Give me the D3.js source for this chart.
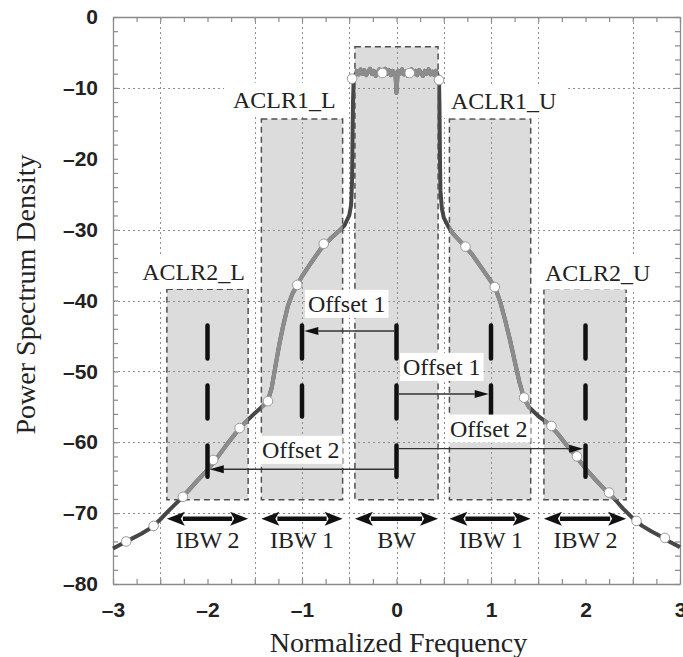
<!DOCTYPE html>
<html><head><meta charset="utf-8">
<script src="https://cdn.jsdelivr.net/npm/d3@7"></script>
<style>body{margin:0;background:#fff}</style>
</head><body><svg id="c" width="683" height="657"></svg>
<script>
// ---------------- DATA ----------------
const spectrumFreq = [-3.0,-2.9,-2.8,-2.7,-2.6,-2.5,-2.4,-2.3,-2.2,-2.1,-2.0,-1.9,-1.8,-1.7,-1.6,-1.5,-1.4,-1.36,-1.32,-1.28,-1.24,-1.2,-1.15,-1.1,-1.05,-1.0,-0.9,-0.8,-0.7,-0.6,-0.55,-0.5,-0.48,-0.47,-0.465,-0.46,-0.455,-0.45,
 -0.44,-0.42,-0.4,-0.38,-0.36,-0.34,-0.32,-0.3,-0.28,-0.26,-0.24,-0.22,-0.2,-0.18,-0.16,-0.14,-0.12,-0.1,-0.08,-0.06,-0.04,-0.02,-0.01,0,0.01,0.02,0.04,0.06,0.08,0.1,0.12,0.14,0.16,0.18,0.2,0.22,0.24,0.26,0.28,0.3,0.32,0.34,0.36,0.38,0.4,0.42,0.44,
 0.45,0.455,0.46,0.465,0.48,0.5,0.55,0.6,0.7,0.8,0.9,1.0,1.05,1.1,1.15,1.2,1.25,1.3,1.35,1.4,1.5,1.6,1.7,1.8,1.9,2.0,2.1,2.2,2.3,2.4,2.5,2.6,2.7,2.8,2.9,3.0];
const spectrumPsd = [-75.0,-74.3,-73.6,-72.9,-72.1,-70.9,-69.5,-68.2,-66.8,-65.3,-63.9,-62.2,-60.4,-58.7,-57.2,-55.9,-54.7,-54.1,-52.3,-49.2,-46.2,-43.6,-40.8,-39.0,-37.8,-36.6,-34.6,-32.7,-31.3,-30.1,-29.4,-28.0,-26.5,-23.0,-17.0,-12.0,-9.5,-8.6,
 -8.4,-7.6,-8.1,-7.4,-8.0,-7.5,-8.2,-7.7,-7.3,-8.0,-7.6,-8.3,-7.8,-7.4,-8.1,-7.7,-7.3,-8.0,-7.5,-8.2,-7.6,-7.9,-8.3,-10.7,-8.3,-7.6,-8.0,-7.4,-8.1,-7.7,-8.3,-7.8,-7.4,-8.0,-7.6,-8.2,-7.5,-7.9,-8.3,-7.6,-8.0,-7.4,-8.1,-7.7,-8.2,-7.6,-8.4,
 -8.8,-13.0,-20.0,-24.5,-27.0,-28.3,-29.6,-30.6,-32.0,-33.5,-35.4,-37.3,-38.4,-40.3,-42.8,-45.5,-48.5,-51.5,-53.8,-55.0,-56.3,-57.3,-58.7,-60.4,-62.0,-63.7,-65.2,-66.6,-67.9,-69.4,-70.7,-71.8,-72.6,-73.3,-74.1,-74.8];

const markerFreq = [-2.86,-2.57,-2.26,-1.94,-1.66,-1.36,-1.05,-0.77,-0.47,-0.15,0.14,0.45,0.73,1.04,1.35,1.64,1.91,2.25,2.54,2.84];
const markerPsd  = [-74.0,-71.8,-67.7,-62.5,-58.0,-54.2,-37.8,-32.0,-8.7,-7.9,-7.9,-8.9,-32.4,-38.1,-53.7,-57.7,-62.0,-67.1,-71.1,-73.5];

const boxNames   = ["ACLR2_L","ACLR1_L","BW","ACLR1_U","ACLR2_U"];
const boxCenters = [-2,-1,0,1,2];
const boxLeft    = [-2.43,-1.43,-0.44,0.56,1.56];
const boxRight   = [-1.57,-0.57,0.44,1.42,2.43];
const boxTop     = [-38.4,-14.4,-4.2,-14.4,-38.4];
const boxBottom  = -68.1;

const aclrLabels = ["ACLR2_L","ACLR1_L","ACLR1_U","ACLR2_U"];
const aclrLabelX = [-2.69,-1.73,0.577,1.571];   // start of text (data units)
const aclrLabelY = [-37.1,-12.8,-13.0,-37.2];   // baseline (data units)

const bandLabels = ["IBW 2","IBW 1","BW","IBW 1","IBW 2"];
const bandArrowPsd = -70.8;
const bandLabelPsd = -74.9;

const markerBarTop = -43.2;
const markerBarBottom = [-65.2,-56.7,-65.2,-56.7,-65.2];

const offsetLabels  = ["Offset 1","Offset 1","Offset 2","Offset 2"];
const offsetTarget  = [-1,1,-2,2];
const offsetPsd     = [-44.3,-53.2,-63.8,-60.9];
const offsetLabelX  = [-0.937,0.069,-1.423,0.566];
const offsetLabelY  = [-41.6,-50.5,-62.2,-59.2];

const xTickLabels = [-3,-2,-1,0,1,2,3];
const yTickLabels = [0,-10,-20,-30,-40,-50,-60,-70,-80];
const xMinorTicks = d3.range(-3,3.001,0.25);
const yMinorTicks = d3.range(-80,0.001,2);
const xGrid = [-2.5,-1.5,-1,-0.5,0,0.5,1,1.5,2.5];
const yGrid = [-10,-30,-40,-50,-60,-70];

// ---------------- DRAW ----------------
const L=113,R=680,T=17,B=584;
const x = d3.scaleLinear().domain([-3,3]).range([L,R]);
const y = d3.scaleLinear().domain([-80,0]).range([B,T]);
const svg = d3.select('#c');
svg.append('rect').attr('width',683).attr('height',657).attr('fill','#fff');

const boxes = boxNames.map((n,i)=>({name:n,c:boxCenters[i],l:boxLeft[i],r:boxRight[i],t:boxTop[i],b:boxBottom}));

svg.append('g').selectAll('rect').data(boxes).join('rect')
  .attr('x',d=>x(d.l)).attr('y',d=>y(d.t))
  .attr('width',d=>x(d.r)-x(d.l)).attr('height',d=>y(d.b)-y(d.t))
  .attr('fill','#dcdcdc');

const grid = svg.append('g').attr('stroke','#8f8f8f').attr('stroke-width',1).attr('stroke-dasharray','2,3');
grid.selectAll('.gx').data(xGrid).join('line').attr('class','gx')
  .attr('x1',d=>Math.round(x(d))+.5).attr('x2',d=>Math.round(x(d))+.5).attr('y1',T).attr('y2',B);
grid.selectAll('.gy').data(yGrid).join('line').attr('class','gy')
  .attr('y1',d=>Math.round(y(d))+.5).attr('y2',d=>Math.round(y(d))+.5).attr('x1',L).attr('x2',R);

svg.append('g').selectAll('rect').data(boxes).join('rect')
  .attr('x',d=>x(d.l)).attr('y',d=>y(d.t))
  .attr('width',d=>x(d.r)-x(d.l)).attr('height',d=>y(d.b)-y(d.t))
  .attr('fill','none').attr('stroke','#505050').attr('stroke-width',1.5).attr('stroke-dasharray','6,4');

// axes ticks (inward)
function styleAx(g){ g.select('.domain').attr('stroke','#8a8a8a').attr('stroke-width',1.3);
  g.selectAll('.tick line').attr('stroke','#8a8a8a').attr('stroke-width',1.2); }
svg.append('g').attr('transform',`translate(0,${B})`).call(d3.axisBottom(x).tickValues(xMinorTicks).tickSize(-5).tickSizeOuter(0).tickFormat('')).call(styleAx);
svg.append('g').attr('transform',`translate(0,${T})`).call(d3.axisTop(x).tickValues(xMinorTicks).tickSize(-5).tickSizeOuter(0).tickFormat('')).call(styleAx);
svg.append('g').attr('transform',`translate(${L},0)`).call(d3.axisLeft(y).tickValues(yMinorTicks).tickSize(-5).tickSizeOuter(0).tickFormat('')).call(styleAx);
svg.append('g').attr('transform',`translate(${R},0)`).call(d3.axisRight(y).tickValues(yMinorTicks).tickSize(-5).tickSizeOuter(0).tickFormat('')).call(styleAx);

const fmt = d => d===0 ? '0' : (d<0 ? '\u2013'+Math.abs(d) : String(d));
const tickFont = g => g.selectAll('text').attr('font-family','"Liberation Sans", Arial, sans-serif')
   .attr('font-weight','bold').attr('font-size',21).attr('fill','#222');
svg.append('g').attr('transform',`translate(0,${B})`)
  .call(d3.axisBottom(x).tickValues(xTickLabels).tickSize(0).tickPadding(18).tickFormat(fmt))
  .call(g=>g.select('.domain').remove()).call(tickFont);
svg.append('g').attr('transform',`translate(${L},0)`)
  .call(d3.axisLeft(y).tickValues(yTickLabels).tickSize(0).tickPadding(15).tickFormat(fmt))
  .call(g=>g.select('.domain').remove()).call(tickFont);

// axis titles
const serif = '"Liberation Serif", "Times New Roman", serif';
svg.append('text').attr('x',(L+R)/2+2).attr('y',652).attr('text-anchor','middle')
  .attr('font-family',serif).attr('font-size',28).attr('fill','#222').text('Normalized Frequency');
svg.append('text').attr('transform',`translate(35,${(T+B)/2-6}) rotate(-90)`).attr('text-anchor','middle')
  .attr('font-family',serif).attr('font-size',28).attr('fill','#222').text('Power Spectrum Density');

// spectrum
const pts = spectrumFreq.map((f,i)=>[f,spectrumPsd[i]]);
const line = d3.line().x(d=>x(d[0])).y(d=>y(d[1]));
const clip = svg.append('defs').append('clipPath').attr('id','boxclip');
clip.selectAll('rect').data(boxes).join('rect')
  .attr('x',d=>x(d.l)).attr('y',d=>y(d.t)-20)
  .attr('width',d=>x(d.r)-x(d.l)).attr('height',d=>y(d.b)-y(d.t)+20);
svg.append('path').datum(pts).attr('d',line).attr('fill','none')
  .attr('stroke','#474747').attr('stroke-width',4).attr('stroke-linejoin','round');
svg.append('path').datum(pts).attr('d',line).attr('fill','none').attr('clip-path','url(#boxclip)')
  .attr('stroke','#8c8c8c').attr('stroke-width',4).attr('stroke-linejoin','round');
svg.append('g').selectAll('circle').data(markerFreq.map((f,i)=>[f,markerPsd[i]])).join('circle')
  .attr('cx',d=>x(d[0])).attr('cy',d=>y(d[1])).attr('r',4.8)
  .attr('fill','#fff').attr('stroke','#9a9a9a').attr('stroke-width',1);

// offset arrows
offsetTarget.forEach((t,i)=>{
  const s = Math.sign(t), yy = y(offsetPsd[i]);
  const x0 = x(0)+s*2.3, tip = x(t)-s*2.3, hl=14, hw=4;
  svg.append('line').attr('x1',x0).attr('x2',tip-s*hl).attr('y1',yy).attr('y2',yy)
    .attr('stroke','#333').attr('stroke-width',1.4);
  svg.append('path').attr('d',`M${tip},${yy}L${tip-s*hl},${yy-hw}L${tip-s*hl},${yy+hw}Z`).attr('fill','#111');
});

// marker bars
svg.append('g').selectAll('line').data(boxCenters).join('line')
  .attr('x1',d=>x(d)).attr('x2',d=>x(d))
  .attr('y1',y(markerBarTop)+2.25).attr('y2',(d,i)=>y(markerBarBottom[i])-2.25)
  .attr('stroke','#111').attr('stroke-width',4.5).attr('stroke-linecap','round').attr('stroke-dasharray','33,27');

// labels with white background
function label(txt,xs,ys,padX,padY){
  const g = svg.append('g');
  const r = g.append('rect').attr('fill','#fff');
  const t = g.append('text').attr('x',xs).attr('y',ys).attr('font-family',serif).attr('font-size',24).attr('fill','#222').text(txt);
  const b = t.node().getBBox();
  r.attr('x',b.x-padX).attr('y',b.y-padY).attr('width',b.width+2*padX).attr('height',b.height+2*padY);
}
offsetLabels.forEach((t,i)=>label(t,x(offsetLabelX[i]),y(offsetLabelY[i]),3,1));
aclrLabels.forEach((t,i)=>label(t,x(aclrLabelX[i]),y(aclrLabelY[i]),9,4));

// band double arrows
boxes.forEach((d,i)=>{
  const yy=y(bandArrowPsd), a=x(d.l), b=x(d.r), hl=18, hw=7;
  svg.append('line').attr('x1',a+hl-2).attr('x2',b-hl+2).attr('y1',yy).attr('y2',yy).attr('stroke','#111').attr('stroke-width',4.5);
  svg.append('path').attr('d',`M${a},${yy}L${a+hl},${yy-hw}L${a+hl-4},${yy}L${a+hl},${yy+hw}Z`).attr('fill','#111');
  svg.append('path').attr('d',`M${b},${yy}L${b-hl},${yy-hw}L${b-hl+4},${yy}L${b-hl},${yy+hw}Z`).attr('fill','#111');
  svg.append('text').attr('x',x(d.c)).attr('y',y(bandLabelPsd)).attr('text-anchor','middle')
    .attr('font-family',serif).attr('font-size',24).attr('fill','#222').text(bandLabels[i]);
});
</script>
</body></html>
